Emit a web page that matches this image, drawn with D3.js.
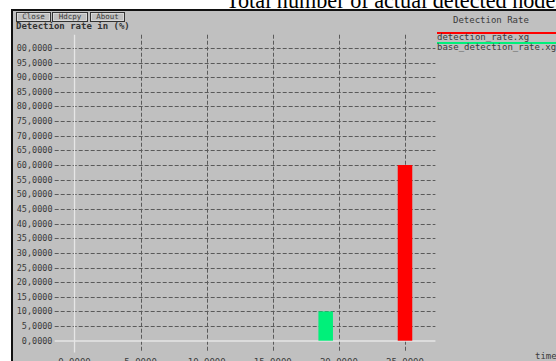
<!DOCTYPE html>
<html>
<head>
<meta charset="utf-8">
<script src="https://cdn.jsdelivr.net/npm/d3@7"></script>
<style>
  html, body { margin: 0; padding: 0; background: #fff; }
  svg { display: block; }
</style>
</head>
<body>
<svg id="chart" width="556" height="361"></svg>
<script>
// ---- data ----
const titleText = "Total number of actual detected nodes";
const yAxisTitle = "Detection rate in (%)";
const xAxisTitle = "time";
const legendTitle = "Detection Rate";
const buttons = ["Close", "Hdcpy", "About"];
const xTicks = [0, 5, 10, 15, 20, 25];
const yTicks = [0, 5, 10, 15, 20, 25, 30, 35, 40, 45, 50, 55, 60, 65, 70, 75, 80, 85, 90, 95, 100];
const seriesNames = ["detection_rate.xg", "base_detection_rate.xg"];
const seriesColors = ["#ff0000", "#00f07a"];
const seriesX = [[25], [19]];
const seriesY = [[60], [10]];
const barWidth = 1.1;

// ---- layout ----
const svg = d3.select("#chart");
const W = 556, H = 361;
const bg = "#c0c0c0";
const textColor = "#3a3a3a";
const mono = "'DejaVu Sans Mono', 'Liberation Mono', monospace";

const x = d3.scaleLinear().domain([-1.5, 27.3]).range([54.7, 435.4]);
const y = d3.scaleLinear().domain([0, 100]).range([340.7, 47.9]);
const xExt = x.domain();
const yExt = [-4, 104.5];

// frame
svg.append("rect").attr("width", W).attr("height", H).attr("fill", "#fff");
svg.append("rect").attr("x", 11).attr("y", 9).attr("width", W).attr("height", H).attr("fill", "#111");
svg.append("rect").attr("x", 13).attr("y", 11).attr("width", W).attr("height", H).attr("fill", bg);

// title (clipped at top)
svg.append("text").attr("x", 226).attr("y", 8)
  .attr("font-family", "'Liberation Serif', 'Times New Roman', serif")
  .attr("font-size", 22.2).attr("fill", "#000").text(titleText);

// buttons
const btnX = [16, 52, 90], btnW = [34, 35, 34];
const bgr = svg.append("g");
buttons.forEach((b, i) => {
  bgr.append("rect").attr("x", btnX[i] + 0.5).attr("y", 12.5).attr("width", btnW[i]).attr("height", 9)
    .attr("fill", "none").attr("stroke", "#333").attr("stroke-width", 1);
  bgr.append("rect").attr("x", btnX[i] + 1.5).attr("y", 13.5).attr("width", btnW[i] - 2).attr("height", 7)
    .attr("fill", "none").attr("stroke", "#e8e8e8").attr("stroke-width", 0.6);
  bgr.append("text").attr("x", btnX[i] + btnW[i] / 2 + 0.5).attr("y", 19)
    .attr("text-anchor", "middle").attr("font-family", mono).attr("font-size", 7.5)
    .attr("fill", textColor).text(b);
});

// y axis title
svg.append("text").attr("x", 16).attr("y", 28.5)
  .attr("font-family", mono).attr("font-size", 9).attr("font-weight", "bold")
  .attr("fill", "#333").text(yAxisTitle);

// clip for content inside frame
svg.append("clipPath").attr("id", "inner").append("rect")
  .attr("x", 13).attr("y", 11).attr("width", W).attr("height", H);
svg.append("clipPath").attr("id", "labels").append("rect")
  .attr("x", 16.5).attr("y", 11).attr("width", W).attr("height", H);
const g = svg.append("g").attr("clip-path", "url(#inner)");

// horizontal grid
g.append("g").selectAll("line").data(yTicks.filter(d => d !== 0)).join("line")
  .attr("x1", x(xExt[0])).attr("x2", x(xExt[1]))
  .attr("y1", d => Math.round(y(d)) + 0.5).attr("y2", d => Math.round(y(d)) + 0.5)
  .attr("stroke", "#5a5a5a").attr("stroke-width", 1).attr("stroke-dasharray", "4,2");

// vertical grid
g.append("g").selectAll("line").data(xTicks.filter(d => d !== 0)).join("line")
  .attr("x1", d => Math.round(x(d)) + 0.5).attr("x2", d => Math.round(x(d)) + 0.5)
  .attr("y1", y(yExt[1])).attr("y2", y(yExt[0]))
  .attr("stroke", "#5a5a5a").attr("stroke-width", 1).attr("stroke-dasharray", "4,2");

// zero axes (light)
g.append("line").attr("x1", x(xExt[0])).attr("x2", x(xExt[1]))
  .attr("y1", y(0) + 0.3).attr("y2", y(0) + 0.3).attr("stroke", "#e6e6e6").attr("stroke-width", 1.3);
g.append("line").attr("x1", x(0)).attr("x2", x(0))
  .attr("y1", y(yExt[1])).attr("y2", y(yExt[0])).attr("stroke", "#e6e6e6").attr("stroke-width", 1.3);

// y tick labels
svg.append("g").attr("clip-path", "url(#labels)").selectAll("text").data(yTicks).join("text")
  .attr("x", 52.5).attr("y", d => y(d) + 3)
  .attr("text-anchor", "end").attr("font-family", mono).attr("font-size", 8.5)
  .attr("fill", textColor)
  .text(d => d3.format(".4f")(d).replace(".", ","));

// x tick labels
g.append("g").selectAll("text").data(xTicks).join("text")
  .attr("x", d => x(d)).attr("y", 365)
  .attr("text-anchor", "middle").attr("font-family", mono).attr("font-size", 9)
  .attr("fill", textColor)
  .text(d => d3.format(".4f")(d));

// x axis title
g.append("text").attr("x", 535).attr("y", 358.5)
  .attr("font-family", mono).attr("font-size", 9).attr("fill", textColor).text(xAxisTitle);

// bars
seriesNames.forEach((name, i) => {
  g.append("g").selectAll("rect").data(seriesX[i].map((xv, j) => ({ x: xv, y: seriesY[i][j] }))).join("rect")
    .attr("x", d => x(d.x - barWidth / 2)).attr("width", d => x(d.x + barWidth / 2) - x(d.x - barWidth / 2))
    .attr("y", d => y(d.y)).attr("height", d => y(0) - y(d.y))
    .attr("fill", seriesColors[i]);
});

// legend
g.append("text").attr("x", 453).attr("y", 23)
  .attr("font-family", mono).attr("font-size", 9).attr("fill", textColor).text(legendTitle);
const legY = [33, 43];
seriesNames.forEach((name, i) => {
  g.append("line").attr("x1", 437).attr("x2", W).attr("y1", legY[i]).attr("y2", legY[i])
    .attr("stroke", seriesColors[i]).attr("stroke-width", 2.2);
  g.append("text").attr("x", 437).attr("y", legY[i] + 6.5)
    .attr("font-family", mono).attr("font-size", 9).attr("fill", textColor).text(name);
});
</script>
</body>
</html>
